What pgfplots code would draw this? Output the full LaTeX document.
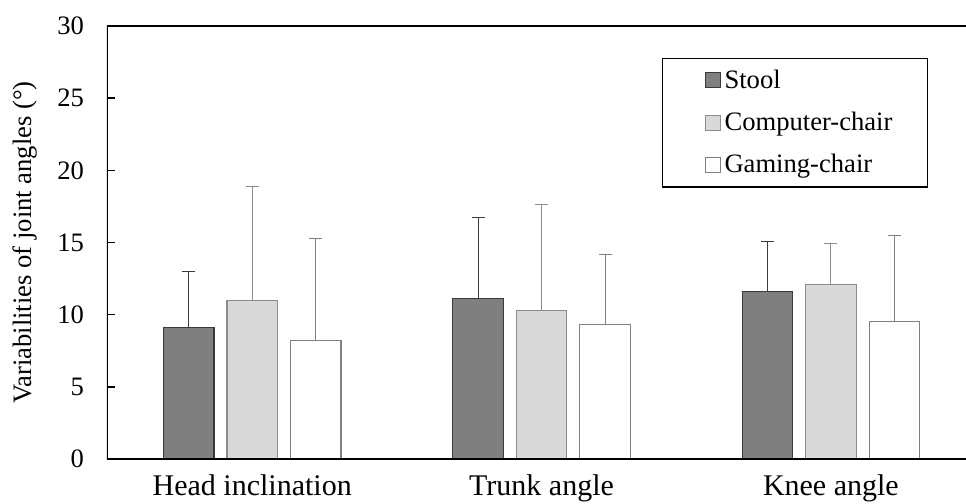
\documentclass[border=0pt]{standalone}
\usepackage{fontspec}
\setmainfont{Liberation Serif}
\usepackage{pgfplots}
\pgfplotsset{compat=1.18}
\usepackage{pgfplotstable}
\definecolor{stoolfill}{HTML}{7F7F7F}
\definecolor{stooldraw}{HTML}{3A3A3A}
\definecolor{compfill}{HTML}{D9D9D9}
\definecolor{compdraw}{HTML}{8C8C8C}
\definecolor{gamedraw}{HTML}{808080}
\pgfplotstableread{
x y e
0 9.1 3.9
1 11.1 5.6
2 11.6 3.5
}\stool
\pgfplotstableread{
x y e
0 11.0 7.9
1 10.3 7.3
2 12.1 2.8
}\comp
\pgfplotstableread{
x y e
0 8.2 7.1
1 9.3 4.9
2 9.5 6.0
}\game
\begin{document}
\begin{tikzpicture}
\begin{axis}[
  name=ax,
  scale only axis,
  width=429.5pt, height=216.5pt,
  ybar=6.5pt, bar width=25.25pt,
  xmin=-0.502, xmax=2.467,
  ymin=0, ymax=30,
  ytick={0,5,...,30},
  ytick pos=left,
  xtick={0,1,2},
  xticklabels={Head inclination, Trunk angle, Knee angle},
  x tick style={draw=none},
  y tick style={black, line width=0.8pt},
  tick align=inside,
  major tick length=3.8pt,
  axis line style={draw=none},
  /pgf/number format/assume math mode=true,
  yticklabel style={font=\fontsize{13.3}{15}\selectfont, xshift=-8pt},
  xticklabel style={font=\fontsize{15}{17}\selectfont, yshift=-4.5pt},
  ylabel={Variabilities of joint angles (°)},
  every axis y label/.style={at={([xshift=-41pt]rel axis cs:0,0.5)}, rotate=90, anchor=center,
    font=\fontsize{13.3}{15}\selectfont},
  legend style={at={(1,1)}, anchor=north east, xshift=-19pt, yshift=-16pt,
    draw=black, line width=0.6pt, inner xsep=15.5pt, inner ysep=3.5pt, row sep=6.5pt,
    font=\fontsize{13.3}{15}\selectfont},
  legend cell align=left,
  legend image code/.code={\path (0pt,0pt); \draw[#1, line width=0.5pt] (5.5pt,-3.75pt) rectangle (13pt,3.75pt);},
  error bars/y dir=plus,
  error bars/y explicit,
]
\addplot[fill=stoolfill, draw=stooldraw, line width=0.6pt,
  error bars/error bar style={draw=stooldraw, line width=0.5pt},
  error bars/error mark options={draw=stooldraw, line width=0.5pt, mark size=3.25pt, rotate=90}]
  table[x=x, y=y, y error=e] {\stool};
\addplot[fill=compfill, draw=compdraw, line width=0.6pt,
  error bars/error bar style={draw=compdraw, line width=0.5pt},
  error bars/error mark options={draw=compdraw, line width=0.5pt, mark size=3.25pt, rotate=90}]
  table[x=x, y=y, y error=e] {\comp};
\addplot[fill=white, draw=gamedraw, line width=0.6pt,
  error bars/error bar style={draw=gamedraw, line width=0.5pt},
  error bars/error mark options={draw=gamedraw, line width=0.5pt, mark size=3.25pt, rotate=90}]
  table[x=x, y=y, y error=e] {\game};
\legend{Stool, Computer-chair, Gaming-chair}
\draw[black, line width=1pt] (rel axis cs:1,1) -- (rel axis cs:0,1) -- (rel axis cs:0,0) -- (rel axis cs:1,0);
\end{axis}
\pgfresetboundingbox
\useasboundingbox ([xshift=-53.5pt,yshift=-22pt]ax.south west) rectangle ([yshift=13pt]ax.north east);
\end{tikzpicture}
\end{document}
